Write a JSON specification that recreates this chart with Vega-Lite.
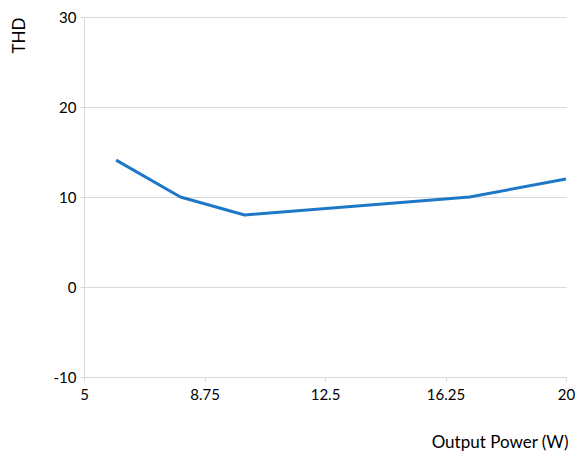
{
  "$schema": "https://vega.github.io/schema/vega-lite/v6.json",
  "width": 482,
  "height": 360,
  "autosize": "none",
  "padding": {"left": 84, "top": 17, "right": 14, "bottom": 80},
  "background": "white",
  "config": {
    "view": {"stroke": null},
    "font": "Lato",
    "axis": {
      "labelFont": "Lato",
      "titleFont": "Lato",
      "labelFontSize": 15,
      "titleFontSize": 17,
      "labelColor": "#000000",
      "titleColor": "#000000",
      "titleFontWeight": "normal",
      "domainColor": "#d9d9d9",
      "tickColor": "#d9d9d9",
      "gridColor": "#d9d9d9",
      "tickSize": 4
    }
  },
  "data": {
    "values": [
      {"power": 6, "thd": 14.1},
      {"power": 8, "thd": 10},
      {"power": 10, "thd": 8},
      {"power": 17, "thd": 10},
      {"power": 20, "thd": 12}
    ]
  },
  "mark": {"type": "line", "color": "#1f77c8", "strokeWidth": 3, "strokeJoin": "round"},
  "encoding": {
    "x": {
      "field": "power",
      "type": "quantitative",
      "scale": {"domain": [5, 20], "nice": false, "zero": false},
      "axis": {
        "values": [5, 8.75, 12.5, 16.25, 20],
        "grid": false,
        "title": "Output Power (W)",
        "titleAnchor": "end",
        "titleAlign": "right",
        "titleBaseline": "alphabetic",
        "titleX": 484,
        "titleY": 70,
        "labelPadding": 6,
        "labelFlush": false,
        "labelExpr": "'' + datum.value"
      }
    },
    "y": {
      "field": "thd",
      "type": "quantitative",
      "scale": {"domain": [-10, 30], "nice": false},
      "axis": {
        "values": [-10, 0, 10, 20, 30],
        "grid": true,
        "title": "THD",
        "titleAngle": -90,
        "titleAlign": "center",
        "titleBaseline": "alphabetic",
        "titleX": -60,
        "titleY": 18,
        "labelPadding": 4,
        "labelFlush": false,
        "labelExpr": "'' + datum.value"
      }
    }
  }
}
